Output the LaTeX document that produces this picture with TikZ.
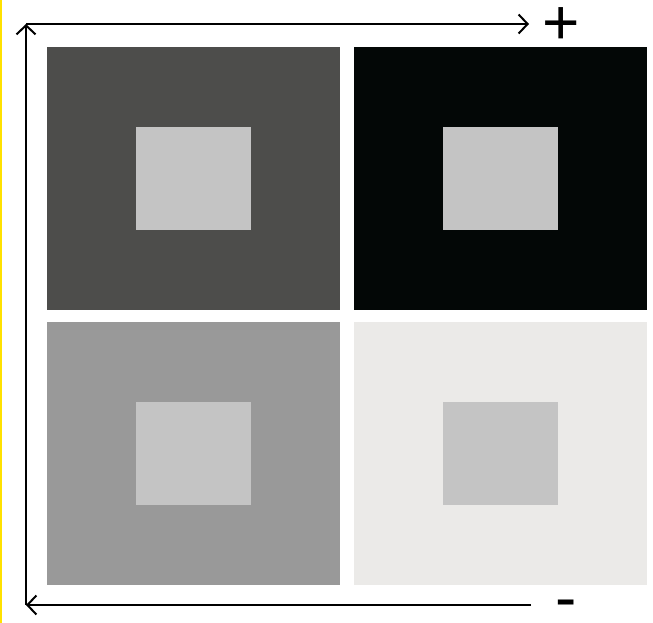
\documentclass[tikz,border=0pt]{standalone}
\usepackage{fontspec}
\setmainfont{Liberation Sans}
\usetikzlibrary{arrows.meta}
\definecolor{edgeyellow}{HTML}{FFE100}
\definecolor{darkgrey}{HTML}{4D4D4B}
\definecolor{nearblack}{HTML}{030706}
\definecolor{midgrey}{HTML}{999999}
\definecolor{offwhite}{HTML}{EBEAE8}
\definecolor{innergrey}{HTML}{C4C4C4}

\begin{document}
\begin{tikzpicture}[x=1pt,y=-1pt]
        \useasboundingbox(0,0)rectangle(653,623);
        % yellow edge
        \path[fill=edgeyellow](0,0)rectangle(2,623);
        % squares
        \foreach \x/\y/\c in {47/47/darkgrey, 354/47/nearblack, 47/322/midgrey, 354/322/offwhite}
        {
            \path[fill=\c](\x,\y)rectangle++(293,263);
            \path[fill=innergrey](\x+89,\y+80)rectangle++(115,103);
        }
        % axis
        \coordinate(O)at(26,605);
        \coordinate(top)at(26,24);
        \coordinate(right)at(529,24);
        \coordinate(end)at(531,605);
        \path[draw, line width=2pt, -{Straight Barb[length=9pt,width=19pt]}](O)to(top);
        \path[draw, line width=2pt, -{Straight Barb[length=9pt,width=19pt]}](top)to(right);
        \path[draw, line width=2pt, -{Straight Barb[length=9pt,width=19pt]}](end)to(O);
        % signs
        \node[inner sep=0pt, anchor=base, font=\fontsize{64}{64}\selectfont, text height=0.6em, text depth=0pt](plus)at(561,45){+};
        \node[inner sep=0pt, anchor=base, font=\fontsize{64}{64}\selectfont, text height=0.4em, text depth=0pt](minus)at(566,619){-};
\end{tikzpicture}
\end{document}
